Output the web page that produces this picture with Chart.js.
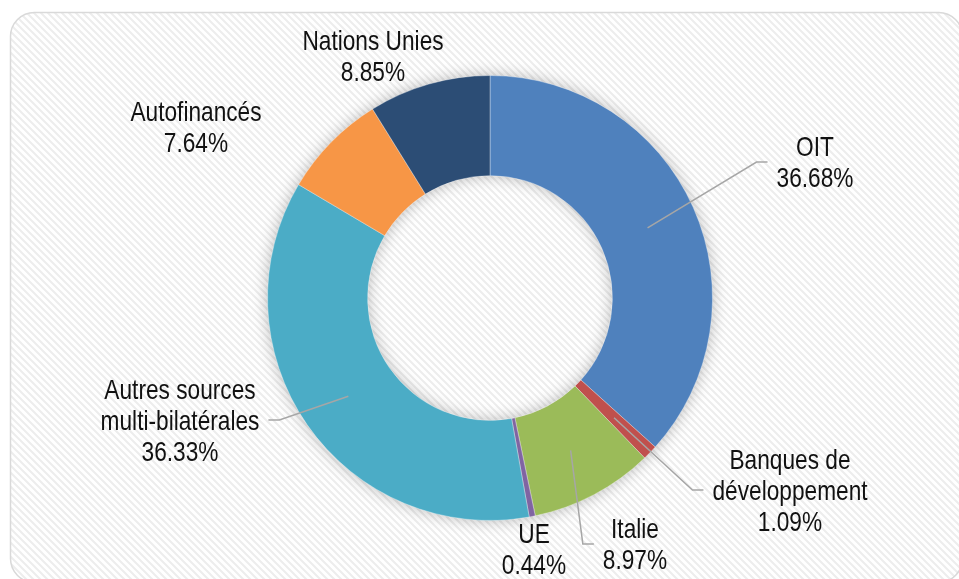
<!DOCTYPE html>
<html>
<head>
<meta charset="utf-8">
<script src="https://cdn.jsdelivr.net/npm/chart.js@4.4.0/dist/chart.umd.min.js"></script>
<style>
    html, body { margin: 0; padding: 0; background: #fff; }
    #wrap { width: 959px; height: 579px; position: relative; }
</style>
</head>
<body>
<div id="wrap"><canvas id="chart"></canvas></div>
<script>
// Data
const categories = ['OIT', 'Banques de développement', 'Italie', 'UE', 'Autres sources multi-bilatérales', 'Autofinancés', 'Nations Unies'];
const shares = [36.68, 1.09, 8.97, 0.44, 36.33, 7.64, 8.85];
const labelLines = [['OIT'], ['Banques de', 'développement'], ['Italie'], ['UE'], ['Autres sources', 'multi-bilatérales'], ['Autofinancés'], ['Nations Unies']];
const sliceColors = ['#4f81bd', '#c0504d', '#9bbb59', '#8064a2', '#4bacc6', '#f79646', '#2c4d75'];

// Label placement (offset from the doughnut centre) and leader side
const labelPlacement = [
    { dx: 325, dy: -134, leader: 'left' },
    { dx: 300, dy: 194, leader: 'left' },
    { dx: 145, dy: 248, leader: 'left' },
    { dx: 44, dy: 253, leader: null },
    { dx: -310, dy: 124, leader: 'right' },
    { dx: -294, dy: -169, leader: null },
    { dx: -117, dy: -240, leader: null }
];

// narrow look: regular sans squeezed horizontally
const FONT = '28px "Liberation Sans", Arial, sans-serif';
const SQUEEZE = 0.81;
const LINE_H = 31;

// Hatched background pattern
function makeHatch(ctx) {
    const c = document.createElement('canvas');
    c.width = 7; c.height = 7;
    const p = c.getContext('2d');
    p.fillStyle = '#ffffff';
    p.fillRect(0, 0, 7, 7);
    p.strokeStyle = '#ededed';
    p.lineWidth = 2;
    p.beginPath();
    p.moveTo(-2, -2); p.lineTo(9, 9);
    p.moveTo(-9, -2); p.lineTo(2, 9);
    p.moveTo(5, -2); p.lineTo(16, 9);
    p.stroke();
    return ctx.createPattern(c, 'repeat');
}

function roundRect(ctx, x, y, w, h, r) {
    ctx.beginPath();
    ctx.moveTo(x + r, y);
    ctx.lineTo(x + w - r, y);
    ctx.arcTo(x + w, y, x + w, y + r, r);
    ctx.lineTo(x + w, y + h - r);
    ctx.arcTo(x + w, y + h, x + w - r, y + h, r);
    ctx.lineTo(x + r, y + h);
    ctx.arcTo(x, y + h, x, y + h - r, r);
    ctx.lineTo(x, y + r);
    ctx.arcTo(x, y, x + r, y, r);
    ctx.closePath();
}

const backgroundPlugin = {
    id: 'panel',
    beforeDraw(chart) {
        const ctx = chart.ctx;
        ctx.save();
        ctx.fillStyle = '#ffffff';
        ctx.fillRect(0, 0, chart.width, chart.height);
        roundRect(ctx, 10.5, 12.5, 952, 570, 24);
        ctx.fillStyle = makeHatch(ctx);
        ctx.fill();
        ctx.strokeStyle = '#d9d9d9';
        ctx.lineWidth = 1.5;
        ctx.stroke();
        ctx.restore();
    },
    beforeDatasetsDraw(chart) {
        // soft shadow around the ring
        const arc = chart.getDatasetMeta(0).data[0];
        if (!arc) return;
        const { x, y, innerRadius, outerRadius } = arc.getProps(['x', 'y', 'innerRadius', 'outerRadius'], true);
        const ctx = chart.ctx;
        ctx.save();
        ctx.shadowColor = 'rgba(0,0,0,0.3)';
        ctx.shadowBlur = 16;
        ctx.beginPath();
        ctx.arc(x, y, outerRadius - 1, 0, Math.PI * 2);
        ctx.arc(x, y, innerRadius + 1, 0, Math.PI * 2, true);
        ctx.fillStyle = '#888';
        ctx.fill('evenodd');
        ctx.restore();
    }
};

const labelPlugin = {
    id: 'sliceLabels',
    afterDatasetsDraw(chart) {
        const ctx = chart.ctx;
        const meta = chart.getDatasetMeta(0);
        ctx.save();
        ctx.font = FONT;
        ctx.textAlign = 'center';
        ctx.textBaseline = 'middle';
        meta.data.forEach((arc, i) => {
            const { x, y, startAngle, endAngle, innerRadius, outerRadius } =
                arc.getProps(['x', 'y', 'startAngle', 'endAngle', 'innerRadius', 'outerRadius'], true);
            const place = labelPlacement[i];
            const lines = labelLines[i].concat([shares[i].toFixed(2) + '%']);
            const cx = x + place.dx;
            const cy = y + place.dy;

            // leader line
            if (place.leader) {
                const mid = (startAngle + endAngle) / 2;
                const rMid = (innerRadius + outerRadius) / 2;
                const ax = x + Math.cos(mid) * rMid;
                const ay = y + Math.sin(mid) * rMid;
                const halfW = Math.max(...lines.map(t => ctx.measureText(t).width)) * SQUEEZE / 2;
                const ly = cy - 2;
                const endX = place.leader === 'left' ? cx - halfW - 9 : cx + halfW + 9;
                const elbowX = place.leader === 'left' ? endX - 11 : endX + 11;
                ctx.strokeStyle = '#a6a6a6';
                ctx.lineWidth = 1.5;
                ctx.beginPath();
                ctx.moveTo(ax, ay);
                ctx.lineTo(elbowX, ly);
                ctx.lineTo(endX, ly);
                ctx.stroke();
            }

            ctx.fillStyle = '#111111';
            lines.forEach((t, k) => {
                ctx.save();
                ctx.translate(cx, cy + (k - (lines.length - 1) / 2) * LINE_H);
                ctx.scale(SQUEEZE, 1);
                ctx.fillText(t, 0, 0);
                ctx.restore();
            });
        });
        ctx.restore();
    }
};

new Chart(document.getElementById('chart'), {
    type: 'doughnut',
    data: {
        labels: categories,
        datasets: [{
            data: shares,
            backgroundColor: sliceColors,
            borderColor: 'rgba(255,255,255,0.35)',
            borderWidth: 1
        }]
    },
    options: {
        responsive: true,
        maintainAspectRatio: false,
        animation: false,
        cutout: '55%',
        layout: {
            padding: { top: 75, bottom: 58, left: 267, right: 246 }
        },
        plugins: {
            legend: { display: false },
            tooltip: { enabled: false }
        }
    },
    plugins: [backgroundPlugin, labelPlugin]
});
</script>
</body>
</html>
